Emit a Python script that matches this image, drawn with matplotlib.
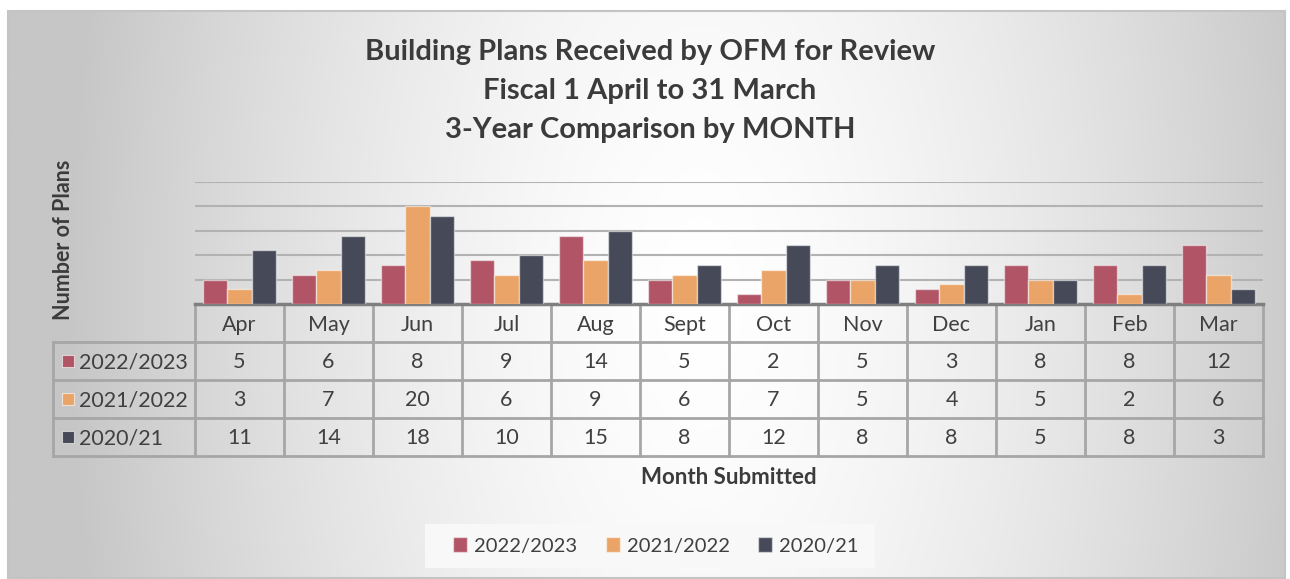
import numpy as np
import matplotlib
matplotlib.use("Agg")
import matplotlib.pyplot as plt
from matplotlib.patches import Rectangle

plt.rcParams['font.family'] = ['Lato', 'DejaVu Sans']

# Data
months = ['Apr', 'May', 'Jun', 'Jul', 'Aug', 'Sept', 'Oct', 'Nov', 'Dec', 'Jan', 'Feb', 'Mar']
series_names = ['2022/2023', '2021/2022', '2020/21']
fy_2022 = [5, 6, 8, 9, 14, 5, 2, 5, 3, 8, 8, 12]
fy_2021 = [3, 7, 20, 6, 9, 6, 7, 5, 4, 5, 2, 6]
fy_2020 = [11, 14, 18, 10, 15, 8, 12, 8, 8, 5, 8, 3]
colors = ['#b05466', '#eba467', '#464a58']
title_lines = ['Building Plans Received by OFM for Review',
               'Fiscal 1 April to 31 March',
               '3-Year Comparison by MONTH']

W, H = 1290, 579
fig = plt.figure(figsize=(W / 100, H / 100), dpi=100)
fig.patch.set_facecolor('white')

# background axes in pixel coordinates
bg = fig.add_axes([0, 0, 1, 1], zorder=0)
bg.set_xlim(0, W)
bg.set_ylim(H, 0)
bg.axis('off')

# gradient: white in the middle, grey towards the sides
gx, gy = np.meshgrid(np.linspace(8, 1285, 400), np.linspace(11, 578, 200))
r = np.sqrt(((gx - 700) / 620) ** 2 + ((gy - 300) / 1200) ** 2)
val = np.clip(255 - 55 * r ** 1.5, 198, 255) / 255.0
img = np.dstack([val, val, val])
bg.imshow(img, extent=(8, 1285, 578, 11), aspect='auto', interpolation='bilinear', zorder=0)
bg.add_patch(Rectangle((8, 11), 1277, 567, fill=False, edgecolor='#c4c4c4', lw=1.5, zorder=1))

# title
for i, line in enumerate(title_lines):
    bg.text(650, 52 + i * 39, line, ha='center', va='center', fontsize=21,
            fontweight='bold', color='#3b3b3b', zorder=3)

# y label
bg.text(64, 240, 'Number of Plans', rotation=90, ha='center', va='center',
        fontsize=15.5, fontweight='bold', color='#3b3b3b', zorder=3)

# x label
bg.text(729, 477, 'Month Submitted', ha='center', va='center',
        fontsize=16, fontweight='bold', color='#3b3b3b', zorder=3)

# main bar axes
x0, x1, ytop, ybase = 195, 1263, 182, 304
ax = fig.add_axes([x0 / W, (H - ybase) / H, (x1 - x0) / W, (ybase - ytop) / H], zorder=2)
ax.patch.set_alpha(0)
x = np.arange(len(months))
width = 0.27
all_series = [fy_2022, fy_2021, fy_2020]
handles = []
for k, (vals, c) in enumerate(zip(all_series, colors)):
    b = ax.bar(x + (k - 1) * width, vals, width, color=c, edgecolor=(1, 1, 1, 0.5),
               lw=1, zorder=3, label=series_names[k])
    handles.append(b)
ax.set_xlim(-0.5, len(months) - 0.5)
ax.set_ylim(0, 25)
ax.set_yticks([5, 10, 15, 20, 25])
ax.yaxis.grid(True, color='#b2b2b2', lw=1.5, zorder=0)
ax.set_axisbelow(True)
ax.tick_params(left=False, bottom=False, labelleft=False, labelbottom=False)
for s in ax.spines.values():
    s.set_visible(False)

# data table
col_w = (x1 - x0) / len(months)
row_y = [304, 342, 380, 418, 456]
line_c = '#a6a6a6'
for yy in row_y[1:]:
    bg.plot([53, x1], [yy, yy], color=line_c, lw=2, zorder=2)
for i in range(len(months) + 1):
    bg.plot([x0 + i * col_w] * 2, [304, 456], color=line_c, lw=2, zorder=2)
bg.plot([53, 53], [342, 456], color=line_c, lw=2, zorder=2)
bg.plot([x0, x1], [304, 304], color='#7f7f7f', lw=2.5, zorder=4)

for i, m in enumerate(months):
    cx = x0 + (i + 0.5) * col_w
    bg.text(cx, 325, m, ha='center', va='center', fontsize=15.5, color='#404040', zorder=3)
    for k, vals in enumerate(all_series):
        cy = (row_y[k + 1] + row_y[k + 2]) / 2 + 1.5
        bg.text(cx, cy, str(vals[i]), ha='center', va='center', fontsize=15.5,
                color='#404040', zorder=3)

for k, name in enumerate(series_names):
    cy = (row_y[k + 1] + row_y[k + 2]) / 2
    bg.add_patch(Rectangle((62, cy - 6), 12, 12, facecolor=colors[k],
                           edgecolor=(1, 1, 1, 0.6), lw=0.8, zorder=3))
    bg.text(79, cy + 1.5, name, ha='left', va='center', fontsize=15.5, color='#404040', zorder=3)

# legend
bg.add_patch(Rectangle((425, 524), 450, 44, facecolor='#f8f8f8', edgecolor='none', zorder=1))
leg = fig.legend(handles=handles, labels=series_names, loc='center',
                 bbox_to_anchor=(656 / W, (H - 546) / H), ncol=3, frameon=False,
                 fontsize=14.5, handlelength=0.7, handleheight=0.7, handletextpad=0.35,
                 columnspacing=1.4, labelcolor='#404040')

fig.savefig('out.png', dpi=100, facecolor='white')
